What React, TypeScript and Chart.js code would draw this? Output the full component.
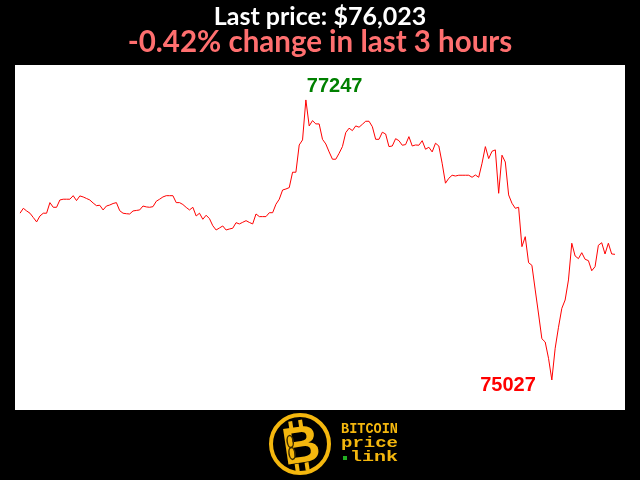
import React, { useEffect, useRef } from "react";
import { Chart, registerables } from "chart.js";

Chart.register(...registerables);

const prices: number[] = [
  76349, 76388, 76367, 76349, 76315, 76280, 76327, 76349, 76349, 76433,
  76396, 76396, 76454, 76460, 76460, 76460, 76488, 76449, 76486, 76478,
  76466, 76454, 76430, 76409, 76412, 76375, 76406, 76414, 76426, 76433,
  76369, 76349, 76345, 76343, 76367, 76371, 76375, 76406, 76399, 76396,
  76401, 76444, 76460, 76478, 76488, 76488, 76488, 76433, 76433, 76418,
  76395, 76375, 76396, 76327, 76349, 76301, 76333, 76306, 76250, 76216,
  76232, 76248, 76216, 76224, 76230, 76274, 76264, 76277, 76290, 76276,
  76264, 76343, 76322, 76322, 76322, 76353, 76353, 76420, 76460, 76533,
  76541, 76552, 76674, 76674, 76890, 76930, 77247, 77041, 77083, 77057,
  77057, 76935, 76898, 76835, 76777, 76777, 76824, 76877, 76988, 77023,
  77004, 77041, 77031, 77054, 77078, 77078, 77035, 76935, 76935, 76991,
  76977, 76877, 76882, 76940, 76924, 76888, 76893, 76956, 76882, 76890,
  76888, 76924, 76856, 76872, 76835, 76904, 76882, 76745, 76587, 76626,
  76650, 76644, 76650, 76650, 76650, 76650, 76634, 76652, 76634, 76745,
  76877, 76782, 76840, 76851, 76507, 76809, 76755, 76494, 76428, 76388,
  76396, 76084, 76163, 75957, 75936, 75741, 75550, 75354, 75328, 75199,
  75027, 75278, 75445, 75595, 75661, 75820, 76111, 76010, 75989, 76036,
  75984, 75973, 75893, 75925, 76095, 76115, 76026, 76111, 76026, 76023,
];

const minutes: string[] = prices.map((_, i) => String(i));

const TITLE = "Last price: $76,023";
const SUBTITLE = "-0.42% change in last 3 hours";
const LOGO_LINES = ["BITCOIN", "price", "link"];

const Y_MIN = 74789;
const Y_MAX = 77524;
const GOLD = "#f4b70e";

const PANEL = { left: 15, top: 65, right: 625, bottom: 410 };

function drawStretched(ctx: CanvasRenderingContext2D, text: string, x0: number, x1: number, y: number) {
  const w = ctx.measureText(text).width;
  ctx.save();
  ctx.translate(x0, y);
  ctx.scale((x1 - x0) / w, 1);
  ctx.textAlign = "left";
  ctx.fillText(text, 0, 0);
  ctx.restore();
}

function drawLogo(ctx: CanvasRenderingContext2D) {
  const cx = 300, cy = 444, r = 29;
  ctx.save();
  ctx.beginPath();
  ctx.arc(cx, cy, r, 0, Math.PI * 2);
  ctx.fillStyle = "#000";
  ctx.fill();
  ctx.lineWidth = 4;
  ctx.strokeStyle = GOLD;
  ctx.stroke();

  ctx.save();
  ctx.translate(cx + 1, cy + 2);
  ctx.rotate(-0.15);
  ctx.fillStyle = GOLD;
  ctx.fillRect(-9, -26, 4, 8);
  ctx.fillRect(1, -26, 4, 8);
  ctx.fillRect(-9, 17, 4, 8);
  ctx.fillRect(1, 17, 4, 8);
  ctx.font = 'bold 52px "Liberation Sans"';
  ctx.textAlign = "center";
  ctx.textBaseline = "middle";
  ctx.fillText("B", 0, 2);
  ctx.strokeStyle = "#3a2a00";
  ctx.lineWidth = 1.5;
  ctx.beginPath();
  ctx.ellipse(-10, -6, 3, 6, 0, 0, Math.PI * 2);
  ctx.stroke();
  ctx.beginPath();
  ctx.ellipse(-10, 6, 3, 6, 0, 0, Math.PI * 2);
  ctx.stroke();
  ctx.restore();

  ctx.fillStyle = GOLD;
  ctx.font = 'bold 14px "Liberation Mono"';
  ctx.textBaseline = "middle";
  drawStretched(ctx, LOGO_LINES[0], 341, 398, 429);
  drawStretched(ctx, LOGO_LINES[1], 341, 398, 443);
  drawStretched(ctx, LOGO_LINES[2], 350, 398, 457);
  ctx.fillStyle = "#22b022";
  ctx.fillRect(343, 456, 4, 4);
  ctx.restore();
}

const framePlugin = {
  id: "frame",
  beforeDraw(chart: any) {
    const ctx: CanvasRenderingContext2D = chart.ctx;
    ctx.save();
    ctx.fillStyle = "#000";
    ctx.fillRect(0, 0, chart.width, chart.height);
    ctx.fillStyle = "#fff";
    ctx.fillRect(PANEL.left, PANEL.top, PANEL.right - PANEL.left, PANEL.bottom - PANEL.top);
    ctx.textAlign = "center";
    ctx.textBaseline = "alphabetic";
    ctx.fillStyle = "#fff";
    ctx.font = 'bold 25px "Lato"';
    ctx.fillText(TITLE, 320, 25);
    ctx.fillStyle = "#ff6f6f";
    ctx.font = 'bold 29.5px "Lato"';
    ctx.fillText(SUBTITLE, 320, 52);
    ctx.restore();
  },
  afterDatasetsDraw(chart: any) {
    const ctx: CanvasRenderingContext2D = chart.ctx;
    const xs = chart.scales.x;
    const ys = chart.scales.y;
    let maxI = 0, minI = 0;
    prices.forEach((p, i) => {
      if (p > prices[maxI]) maxI = i;
      if (p < prices[minI]) minI = i;
    });
    ctx.save();
    ctx.font = 'bold 20px "Liberation Sans"';
    ctx.textBaseline = "alphabetic";
    ctx.fillStyle = "#008000";
    ctx.textAlign = "left";
    ctx.fillText(String(prices[maxI]), xs.getPixelForValue(maxI) + 1, ys.getPixelForValue(prices[maxI]) - 8);
    ctx.fillStyle = "#ff0000";
    ctx.textAlign = "right";
    ctx.fillText(String(prices[minI]), xs.getPixelForValue(minI) - 16, ys.getPixelForValue(prices[minI]) + 11);
    ctx.restore();
    drawLogo(ctx);
  },
};

export default function App() {
  const ref = useRef<HTMLCanvasElement | null>(null);
  useEffect(() => {
    document.body.style.margin = "0";
    if (!ref.current) return;
    const chart = new Chart(ref.current, {
      type: "line",
      data: {
        labels: minutes,
        datasets: [
          {
            data: prices,
            borderColor: "#ff0000",
            borderWidth: 1,
            pointRadius: 0,
            tension: 0,
            fill: false,
          },
        ],
      },
      options: {
        responsive: false,
        animation: false,
        events: [],
        layout: {
          padding: {
            left: PANEL.left + 5,
            right: 640 - PANEL.right + 10,
            top: PANEL.top,
            bottom: 480 - PANEL.bottom,
          },
        },
        scales: {
          x: { display: false, offset: false },
          y: { display: false, min: Y_MIN, max: Y_MAX },
        },
        plugins: {
          legend: { display: false },
          tooltip: { enabled: false },
          title: { display: false },
        },
      },
      plugins: [framePlugin],
    });
    return () => chart.destroy();
  }, []);
  return <canvas ref={ref} width={640} height={480} style={{ display: "block" }} />;
}
